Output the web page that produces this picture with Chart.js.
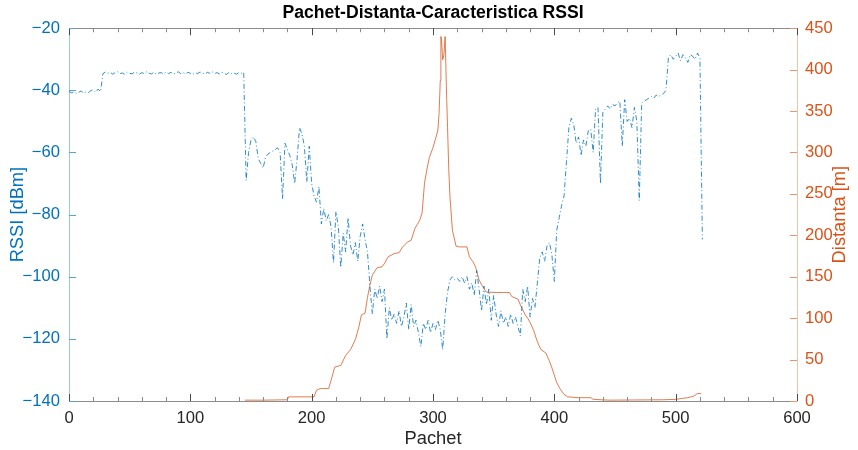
<!DOCTYPE html>
<html>
<head>
<meta charset="utf-8">
<script src="https://cdn.jsdelivr.net/npm/chart.js@4.4.1/dist/chart.umd.min.js"></script>
<style>
  html, body { margin: 0; padding: 0; background: #ffffff; }
  #wrap { width: 858px; height: 450px; }
</style>
</head>
<body>
<div id="wrap"><canvas id="c" width="858" height="450"></canvas></div>
<script>
// ---- DATA ----
const titleText = 'Pachet-Distanta-Caracteristica RSSI';
const xLabel = 'Pachet';
const yLeftLabel = 'RSSI [dBm]';
const yRightLabel = 'Distanta [m]';

const rssiPacket = [
  0,2,4,6,8,10,12,14,16,18,
  20,22,24,26,28,30,32,34,36,38,
  40,42,44,46,48,50,52,54,56,58,
  60,62,64,66,68,70,72,74,76,78,
  80,82,84,86,88,90,92,94,96,98,
  100,102,104,106,108,110,112,114,116,118,
  120,122,124,126,128,130,132,134,136,138,
  140,142,144,146,148,150,152,154,156,158,
  160,162,164,166,168,170,172,174,176,178,
  180,182,184,186,188,190,192,194,196,198,
  200,202,204,206,208,210,212,214,216,218,
  220,222,224,226,228,230,232,234,236,238,
  240,242,244,246,248,250,252,254,256,258,
  260,262,264,266,268,270,272,274,276,278,
  280,282,284,286,288,290,292,294,296,298,
  300,302,304,306,308,310,312,314,316,318,
  320,322,324,326,328,330,332,334,336,338,
  340,342,344,346,348,350,352,354,356,358,
  360,362,364,366,368,370,372,374,376,378,
  380,382,384,386,388,390,392,394,396,398,
  400,402,404,406,408,410,412,414,416,418,
  420,422,424,426,428,430,432,434,436,438,
  440,442,444,446,448,450,452,454,456,458,
  460,462,464,466,468,470,472,474,476,478,
  480,482,484,486,488,490,492,494,496,498,
  500,502,504,506,508,510,512,514,516,518,
  520,522
];
const rssiValues = [
  -40.3,-40.8,-40.5,-41.0,-40.6,-40.2,-40.9,-40.5,-40.7,-40.1,
  -39.8,-40.6,-39.6,-40.4,-34.6,-34.1,-34.5,-34.2,-34.8,-34.3,
  -34.0,-34.6,-34.4,-34.9,-34.2,-34.5,-34.7,-34.1,-34.4,-34.8,
  -34.3,-34.6,-34.0,-34.5,-34.7,-34.2,-34.9,-34.4,-34.3,-34.7,
  -34.1,-34.6,-34.2,-34.8,-34.5,-34.0,-34.6,-34.3,-34.7,-34.2,
  -34.5,-34.9,-34.3,-34.6,-34.1,-34.4,-34.8,-34.2,-34.5,-34.0,
  -34.6,-34.3,-34.7,-34.2,-34.5,-34.9,-34.1,-34.6,-34.4,-34.8,
  -34.3,-34.5,-34.2,-69.0,-60.0,-56.0,-55.0,-56.5,-62.0,-63.5,
  -65.0,-61.5,-60.5,-60.0,-59.5,-59.0,-58.5,-60.0,-75.0,-57.0,
  -59.0,-61.0,-64.0,-70.0,-62.0,-52.0,-54.0,-58.0,-69.5,-58.0,
  -70.0,-74.0,-76.0,-71.0,-83.0,-78.0,-82.0,-80.0,-84.0,-95.5,
  -79.0,-84.0,-97.0,-86.0,-92.0,-81.0,-90.0,-93.0,-89.0,-95.0,
  -87.0,-83.0,-88.0,-92.0,-103.0,-112.0,-104.0,-107.0,-103.0,-108.0,
  -104.0,-120.0,-110.0,-114.0,-112.0,-115.0,-111.0,-116.0,-113.0,-108.5,
  -117.0,-109.0,-116.0,-114.0,-118.0,-122.5,-115.0,-117.0,-114.0,-118.0,
  -115.0,-117.0,-114.0,-117.0,-123.5,-112.0,-105.0,-101.0,-100.0,-101.0,
  -100.5,-101.5,-100.0,-102.0,-100.0,-104.0,-102.0,-106.0,-98.0,-104.0,
  -111.0,-103.0,-109.0,-104.0,-114.0,-106.0,-112.0,-116.0,-111.0,-115.0,
  -113.0,-116.0,-112.0,-115.0,-113.0,-116.0,-119.0,-104.0,-108.0,-103.0,
  -113.0,-107.0,-110.0,-102.0,-94.0,-92.0,-95.0,-90.0,-89.0,-93.0,
  -101.5,-85.0,-81.0,-77.0,-74.0,-63.0,-52.0,-49.0,-51.0,-57.0,
  -55.0,-61.0,-56.0,-58.0,-53.0,-52.5,-60.0,-46.0,-45.5,-70.0,
  -47.0,-46.0,-45.0,-46.0,-44.5,-45.0,-44.0,-43.5,-58.0,-43.0,
  -50.0,-49.0,-52.0,-45.5,-50.0,-75.5,-44.0,-43.5,-43.0,-42.5,
  -42.0,-42.5,-41.5,-42.0,-41.5,-41.0,-40.0,-29.5,-28.5,-30.0,
  -29.0,-28.0,-30.5,-28.5,-29.5,-31.0,-28.5,-29.0,-30.0,-28.0,
  -29.5,-88.0
];

const distPacket = [
  145,160,180,181,202,204,207,214,216,219,
  224,228,232,236,239,241,244,246,248,250,
  254,258,260,263,268,272,275,279,282,285,
  289,291,293,295,297,300,302,304,305,306,
  306.5,307,308,309,310,311,312,313,314,316,
  319,322,328,330,333,335,338,341,344,352,
  358,363,365,370,372,376,378,380,383,385,
  387,389,393,396,398,402,405,408,411,420,
  430,432,445,490,500,505,510,515,518,521
];
const distValues = [
  1,1,1.5,5,5,13,15,15,25,41,
  43,55,62,74,90,104,106,125,140,152,
  161,162,166,174,178,179,186,192,194,208,
  218,227,263,280,294,306,316,327,347,387,
  440,437,412,418,440,380,330,279,246,206,
  187,186,186,174,168,162,146,138,131.5,131,
  131,131,126,123,116,104,100,95,85,76,
  68,62,58,48,40,22,14,8,5,4,
  4,2,1,1.5,2,3,4,6,9,9
];

const xTicks = [0, 100, 200, 300, 400, 500, 600];

// ---- CHART ----
const BLUE = '#0072BD';
const ORANGE = '#D95319';
const DARK = '#262626';
const FONT = "'Liberation Sans', Arial, Helvetica, sans-serif";
const TICK_SIZE = 16.6;
const LABEL_SIZE = 18.3;

const rssiPoints = rssiPacket.map((p, i) => ({ x: p, y: rssiValues[i] }));
const distPoints = distPacket.map((p, i) => ({ x: p, y: distValues[i] }));
const fmt = v => (v < 0 ? '\u2212' + Math.abs(v) : String(v));

const axisDecor = {
  id: 'axisDecor',
  afterDraw(chart) {
    const { ctx, chartArea: a, scales } = chart;
    const sx = scales.x, sy = scales.y, sy1 = scales.y1;
    ctx.save();
    ctx.lineWidth = 1;
    // top box line
    ctx.strokeStyle = '#8c8c8c';
    ctx.beginPath();
    ctx.moveTo(a.left, Math.round(a.top) + 0.5);
    ctx.lineTo(a.right, Math.round(a.top) + 0.5);
    ctx.stroke();
    // x minor ticks bottom and top
    const maj = sx.ticks.map(t => t.value);
    ctx.strokeStyle = '#8a8a8a';
    ctx.beginPath();
    for (let k = 0; k < maj.length - 1; k++) {
      const step = (maj[k + 1] - maj[k]) / 5;
      for (let j = 1; j < 5; j++) {
        const px = Math.round(sx.getPixelForValue(maj[k] + j * step)) + 0.5;
        ctx.moveTo(px, a.bottom); ctx.lineTo(px, a.bottom - 4);
        ctx.moveTo(px, a.top); ctx.lineTo(px, a.top + 4);
      }
    }
    ctx.stroke();
    // x major ticks
    ctx.strokeStyle = '#4a4a4a';
    ctx.beginPath();
    maj.forEach(v => {
      const px = Math.round(sx.getPixelForValue(v)) + 0.5;
      ctx.moveTo(px, a.bottom); ctx.lineTo(px, a.bottom - 7);
      ctx.moveTo(px, a.top); ctx.lineTo(px, a.top + 7);
    });
    ctx.stroke();
    // left ticks
    ctx.strokeStyle = '#5da0d2';
    ctx.beginPath();
    sy.ticks.forEach(t => {
      const py = Math.round(sy.getPixelForValue(t.value)) + 0.5;
      ctx.moveTo(a.left, py); ctx.lineTo(a.left + 7, py);
    });
    ctx.stroke();
    // right ticks
    ctx.strokeStyle = '#e8956f';
    ctx.beginPath();
    sy1.ticks.forEach(t => {
      const py = Math.round(sy1.getPixelForValue(t.value)) + 0.5;
      ctx.moveTo(a.right, py); ctx.lineTo(a.right - 7, py);
    });
    ctx.stroke();
    // right axis title, reading bottom-to-top like MATLAB
    ctx.translate(840, (a.top + a.bottom) / 2);
    ctx.rotate(-Math.PI / 2);
    ctx.fillStyle = ORANGE;
    ctx.font = LABEL_SIZE + 'px ' + FONT;
    ctx.textAlign = 'center';
    ctx.textBaseline = 'middle';
    ctx.fillText(yRightLabel, 0, 0);
    ctx.restore();
  }
};

new Chart(document.getElementById('c'), {
  type: 'line',
  data: {
    datasets: [
      {
        label: yLeftLabel,
        data: rssiPoints,
        yAxisID: 'y',
        borderColor: 'rgba(0,114,189,0.9)',
        borderWidth: 0.9,
        borderDash: [5, 2.5, 1, 2.5],
        pointRadius: 0,
        tension: 0,
        fill: false
      },
      {
        label: yRightLabel,
        data: distPoints,
        yAxisID: 'y1',
        borderColor: 'rgba(217,83,25,0.85)',
        borderWidth: 0.9,
        pointRadius: 0,
        tension: 0,
        fill: false
      }
    ]
  },
  options: {
    responsive: false,
    animation: false,
    devicePixelRatio: 1,
    layout: { padding: 0 },
    plugins: {
      legend: { display: false },
      tooltip: { enabled: false },
      title: {
        display: true,
        text: titleText,
        fullSize: false,
        color: '#000000',
        font: { family: FONT, size: 17.6, weight: 'bold', lineHeight: 1.15 },
        padding: { top: 3, bottom: 5 }
      }
    },
    scales: {
      x: {
        type: 'linear',
        min: 0, max: 600,
        afterBuildTicks: s => { s.ticks = xTicks.map(v => ({ value: v })); },
        grid: { display: false, drawTicks: false },
        border: { display: true, color: '#8c8c8c', width: 1 },
        ticks: { color: DARK, padding: 7, font: { family: FONT, size: TICK_SIZE }, maxRotation: 0, callback: fmt },
        title: { display: true, text: xLabel, color: DARK, padding: { top: 0, bottom: 0 }, font: { family: FONT, size: LABEL_SIZE } },
        afterFit: s => { s.height = 49; }
      },
      y: {
        type: 'linear',
        position: 'left',
        min: -140, max: -20,
        ticks: { stepSize: 20, color: BLUE, padding: 9, font: { family: FONT, size: TICK_SIZE }, callback: fmt },
        grid: { display: false, drawTicks: false },
        border: { display: true, color: '#9cc6e6', width: 1 },
        title: { display: true, text: yLeftLabel, color: BLUE, padding: { top: 7, bottom: 0 }, font: { family: FONT, size: LABEL_SIZE } },
        afterFit: s => { s.width = 69; }
      },
      y1: {
        type: 'linear',
        position: 'right',
        min: 0, max: 450,
        ticks: { stepSize: 50, color: ORANGE, padding: 8, font: { family: FONT, size: TICK_SIZE }, callback: fmt },
        grid: { display: false, drawTicks: false },
        border: { display: true, color: '#f2c2ac', width: 1 },
        title: { display: false },
        afterFit: s => { s.width = 61; }
      }
    }
  },
  plugins: [axisDecor]
});
</script>
</body>
</html>
